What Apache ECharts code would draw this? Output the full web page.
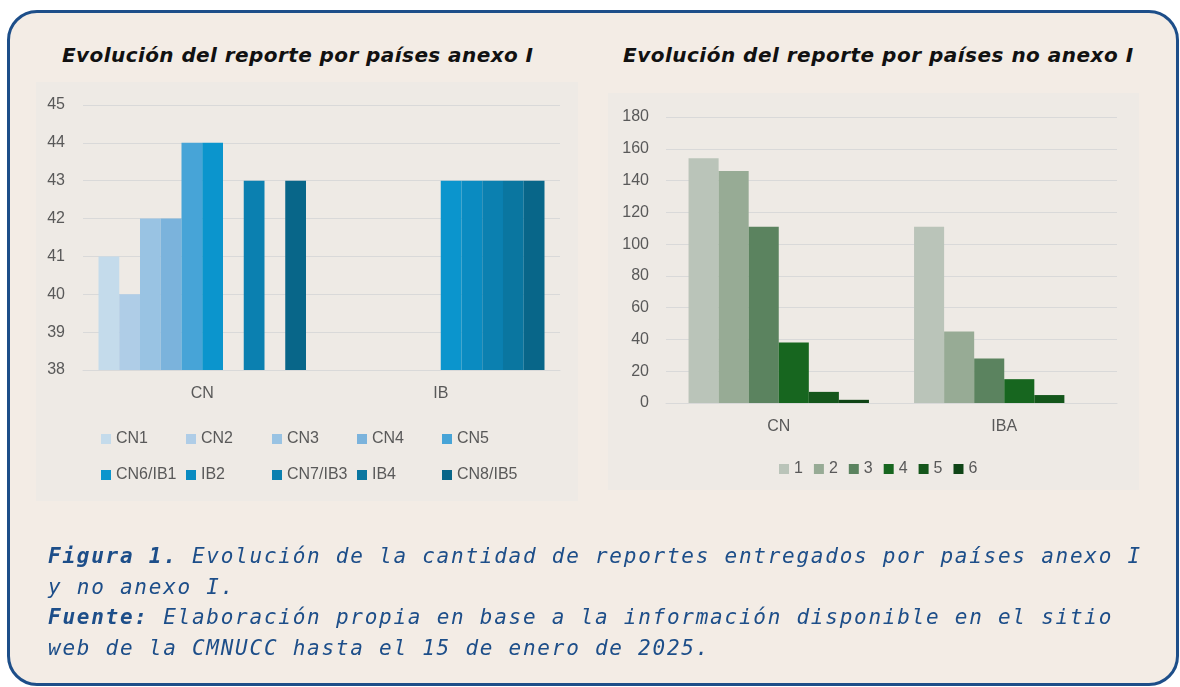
<!DOCTYPE html>
<html>
<head>
<meta charset="utf-8">
<script src="https://cdn.jsdelivr.net/npm/echarts@6/dist/echarts.min.js"></script>
<style>
  html, body { margin: 0; padding: 0; background: #ffffff; }
  #wrap { position: relative; width: 1180px; height: 687px; overflow: hidden; }
  #box { position: absolute; left: 7px; top: 10px; width: 1166px; height: 670px;
         border: 3px solid #1d4e89; border-radius: 30px; background: #f3ece5; }
  .panel { position: absolute; background: #eeeae5; }
  #chart { position: absolute; left: 0; top: 0; width: 1180px; height: 687px; }
  .title { position: absolute; top: 41px; font-family: 'DejaVu Sans', sans-serif; font-style: italic;
           font-weight: bold; font-size: 20px; line-height: 28px; color: #111111; white-space: pre; }
  #cap { position: absolute; left: 48px; top: 541px; font-family: 'DejaVu Sans Mono', monospace;
         font-style: italic; font-size: 21px; letter-spacing: 1.75px; line-height: 30.5px;
         color: #1d4e89; white-space: pre; }
  #cap b { font-weight: bold; }
</style>
</head>
<body>
<div id="wrap">
  <div id="box"></div>
  <div class="panel" style="left:36px;top:82px;width:542px;height:419px;"></div>
  <div class="panel" style="left:608px;top:93px;width:531px;height:397px;"></div>
  <div id="t1" class="title" style="left:62px;"></div>
  <div id="t2" class="title" style="left:623px;"></div>
  <div id="chart"></div>
  <div id="cap"><b>Figura 1.</b> Evolución de la cantidad de reportes entregados por países anexo I
y no anexo I.
<b>Fuente:</b> Elaboración propia en base a la información disponible en el sitio
web de la CMNUCC hasta el 15 de enero de 2025.</div>
</div>
<script>
// ---- Data ----
const leftTitle = 'Evolución del reporte por países anexo I';
const rightTitle = 'Evolución del reporte por países no anexo I';
const leftCategories = ['CN', 'IB'];
const leftSeriesNames = ['CN1', 'CN2', 'CN3', 'CN4', 'CN5', 'CN6/IB1', 'IB2', 'CN7/IB3', 'IB4', 'CN8/IB5'];
const leftValuesCN = [41, 40, 42, 42, 44, 44, null, 43, null, 43];
const leftValuesIB = [null, null, null, null, null, 43, 43, 43, 43, 43];
const leftColors = ['#c4dbeb', '#afcde7', '#99c3e3', '#7bb3dc', '#47a4d7', '#0b95cd', '#0a8bc1', '#0b80b0', '#0a76a0', '#086689'];

const rightCategories = ['CN', 'IBA'];
const rightSeriesNames = ['1', '2', '3', '4', '5', '6'];
const rightValuesCN = [154, 146, 111, 38, 7, 2];
const rightValuesIBA = [111, 45, 28, 15, 5, null];
const rightColors = ['#bac4b9', '#97ab95', '#5b835f', '#17661f', '#14561b', '#0f4416'];

// ---- Titles (fit letter spacing to the reference widths) ----
function fitTitle(id, text, targetWidth) {
  const el = document.getElementById(id);
  el.textContent = text;
  el.style.letterSpacing = '0px';
  const w = el.getBoundingClientRect().width;
  const ls = (targetWidth - w) / (text.length - 1);
  el.style.letterSpacing = ls.toFixed(2) + 'px';
}
fitTitle('t1', leftTitle, 471);
fitTitle('t2', rightTitle, 510);

// ---- Chart ----
const chart = echarts.init(document.getElementById('chart'), null, { renderer: 'canvas' });
const labelColor = '#595959';
const gridColor = '#d9d9d9';
const font = 'Liberation Sans';
const legendText = { color: labelColor, fontSize: 16, fontFamily: font };

const leftSeries = leftSeriesNames.map((name, i) => ({
  name, type: 'bar', xAxisIndex: 0, yAxisIndex: 0,
  data: [leftValuesCN[i], leftValuesIB[i]],
  barGap: '0%', barCategoryGap: '13%',
  itemStyle: { color: leftColors[i] }
}));
const rightSeries = rightSeriesNames.map((name, i) => ({
  name, type: 'bar', xAxisIndex: 1, yAxisIndex: 1,
  data: [rightValuesCN[i], rightValuesIBA[i]],
  barGap: '0%', barCategoryGap: '20%',
  itemStyle: { color: rightColors[i] }
}));

// left legend: one legend per entry, 5 columns x 2 rows
const leftLegends = leftSeriesNames.map((name, i) => ({
  data: [name], left: Math.round(101 + (i % 5) * 85.3), top: i < 5 ? 431 : 467,
  padding: 0, icon: 'rect', itemWidth: 10, itemHeight: 10, textStyle: legendText
}));

chart.setOption({
  animation: false,
  legend: leftLegends.concat([
    { data: rightSeriesNames, left: 779, top: 461, itemGap: 11, padding: 0,
      icon: 'rect', itemWidth: 10, itemHeight: 10, textStyle: legendText }
  ]),
  grid: [
    { left: 83, right: 620, top: 105, bottom: 317 },
    { left: 666, right: 63, top: 117, bottom: 284 }
  ],
  xAxis: [
    { type: 'category', gridIndex: 0, data: leftCategories,
      axisLine: { lineStyle: { color: gridColor } }, axisTick: { show: false },
      axisLabel: { color: labelColor, fontSize: 16, fontFamily: font, margin: 16 } },
    { type: 'category', gridIndex: 1, data: rightCategories,
      axisLine: { lineStyle: { color: gridColor } }, axisTick: { show: false },
      axisLabel: { color: labelColor, fontSize: 16, fontFamily: font, margin: 16 } }
  ],
  yAxis: [
    { type: 'value', gridIndex: 0, min: 38, max: 45, interval: 1,
      axisLine: { show: false }, axisTick: { show: false },
      splitLine: { lineStyle: { color: gridColor } },
      axisLabel: { color: labelColor, fontSize: 16, fontFamily: font, margin: 18 } },
    { type: 'value', gridIndex: 1, min: 0, max: 180, interval: 20,
      axisLine: { show: false }, axisTick: { show: false },
      splitLine: { lineStyle: { color: gridColor } },
      axisLabel: { color: labelColor, fontSize: 16, fontFamily: font, margin: 17 } }
  ],
  series: leftSeries.concat(rightSeries)
});
</script>
</body>
</html>
